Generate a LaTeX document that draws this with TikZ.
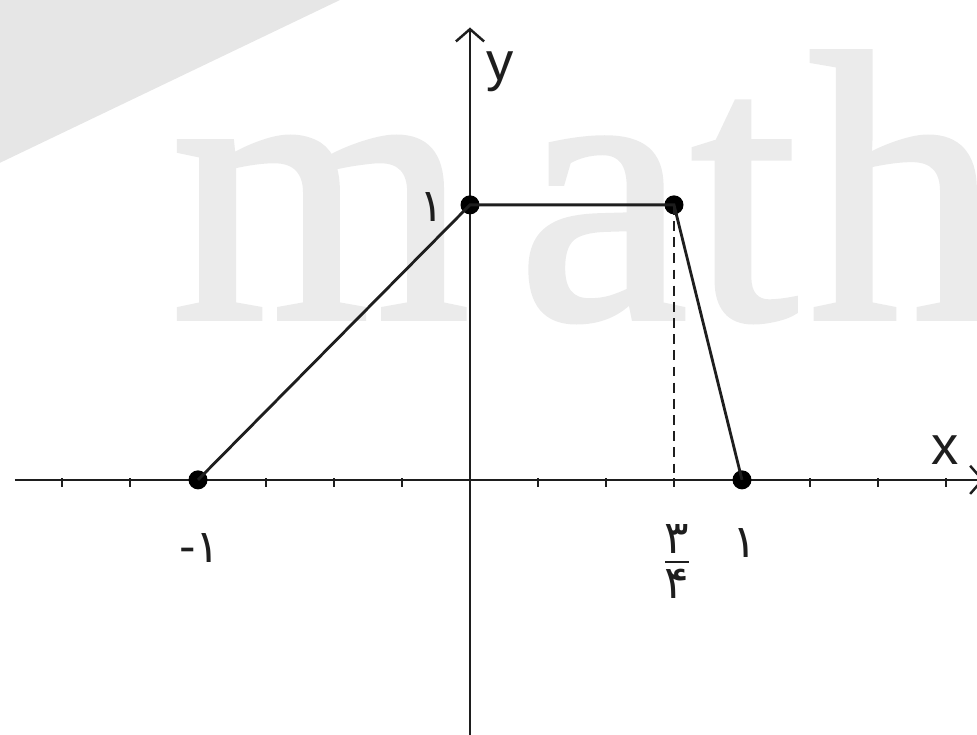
\documentclass[tikz,border=0pt]{standalone}
\usepackage{fontspec}
\setmainfont{Liberation Sans}
\newfontfamily\fadigit{DejaVu Sans}
\newfontfamily\wmfont[FakeBold=1.5]{Liberation Serif}
\usetikzlibrary{arrows.meta,positioning}
\definecolor{inkclr}{RGB}{30,30,30}
\definecolor{wmclr}{RGB}{235,235,235}
\definecolor{bandclr}{RGB}{230,230,230}
\tikzset{
  axln/.style={draw=inkclr,line width=0.7pt},
  seg/.style={draw=inkclr,line width=0.8pt},
  tck/.style={draw=inkclr,line width=0.6pt},
  dotpt/.style={circle,fill=black,inner sep=0pt,minimum size=0.19cm},
  falbl/.style={font=\fadigit\fontsize{13}{15}\selectfont,text=inkclr,inner sep=1pt},
  axlbl/.style={font=\fontsize{15.5}{18}\selectfont,text=inkclr,inner sep=1pt},
  wmltr/.style={font=\wmfont\fontsize{109}{109}\selectfont,text=wmclr,
    anchor=base west,inner sep=0pt},
  axtip/.style={-{Straight Barb[length=3.5pt,width=8pt]}},
}
\begin{document}
\begin{tikzpicture}[x=2.72cm,y=2.75cm]
  \useasboundingbox (-1.728,-0.927) rectangle (1.864,1.745);
  % watermark
  \fill[bandclr] (-1.728,1.745) -- (-0.478,1.745) -- (-1.728,1.153) -- cycle;
  \foreach \ltr/\xx in {m/-1.099,a/0.173,t/0.809,h/1.243}
    \node[wmltr] (wm\ltr) at (\xx,0.589) {\ltr};
  % axes
  \coordinate (xl) at (-1.673,0);
  \coordinate (xr) at (1.89,0);
  \coordinate (yb) at (0,-0.95);
  \coordinate (yt) at (0,1.645);
  \draw[axln,axtip] (xl) -- (xr);
  \draw[axln,axtip] (yb) -- (yt);
  \foreach \t in {-1.5,-1.25,...,1.75}
    \draw[tck] (\t,0.005) -- (\t,-0.025);
  \node[axlbl] (xlbl) at (1.746,0.109) {x};
  \node[axlbl] (ylbl) at (0.11,1.485) {y};
  % graph
  \node[dotpt] (pA) at (-1,0) {};
  \node[dotpt] (pB) at (0,1) {};
  \node[dotpt] (pC) at (0.75,1) {};
  \node[dotpt] (pD) at (1,0) {};
  \coordinate (c34) at (0.75,0);
  \draw[seg] (pA.center) -- (pB.center) -- (pC.center) -- (pD.center);
  \draw[seg,dash pattern=on 2.8pt off 1.8pt] (pC.center) -- (c34);
  % labels
  \node[falbl] (lblB) at (-0.14,0.993) {۱};
  \node[falbl] (lblA) at (-0.993,-0.247) {-۱};
  \node[falbl] (lblD) at (1.011,-0.229) {۱};
  \node[falbl,align=center] (lblC) at (0.761,-0.298)
    {۳\\[-12.5pt]\rule{0.23cm}{0.6pt}\\[-4.8pt]۴};
\end{tikzpicture}
\end{document}
